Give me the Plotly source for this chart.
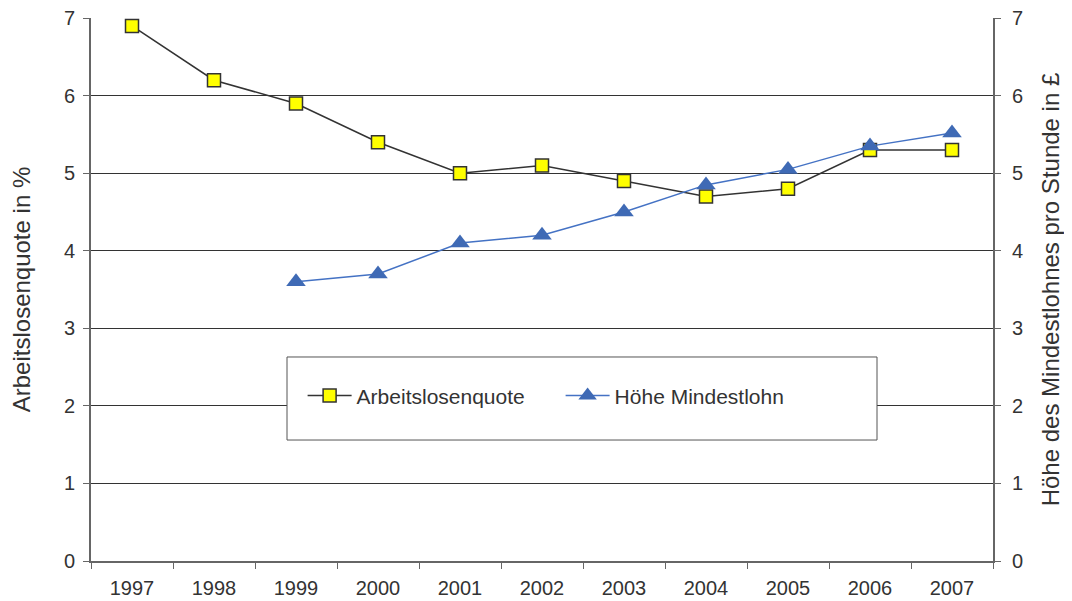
import plotly.graph_objects as go

# Data
jahre = ["1997", "1998", "1999", "2000", "2001", "2002", "2003", "2004", "2005", "2006", "2007"]
arbeitslosenquote = [6.9, 6.2, 5.9, 5.4, 5.0, 5.1, 4.9, 4.7, 4.8, 5.3, 5.3]
mindestlohn = [None, None, 3.60, 3.70, 4.10, 4.20, 4.50, 4.85, 5.05, 5.35, 5.52]

font = "Liberation Sans, Arial, sans-serif"
axis_col = "#666666"

fig = go.Figure()

fig.add_trace(go.Scatter(
    x=jahre, y=arbeitslosenquote, name="Arbeitslosenquote",
    mode="lines+markers",
    line=dict(color="#333333", width=1.5),
    marker=dict(symbol="square", size=13, color="#ffff00",
                line=dict(color="#333333", width=1.5)),
))

fig.add_trace(go.Scatter(
    x=jahre, y=mindestlohn, name="Höhe Mindestlohn",
    mode="lines+markers", yaxis="y2",
    line=dict(color="#4472c4", width=1.5),
    marker=dict(symbol="triangle-up", size=17, color="#3f6ab5"),
))

# Legend frame
fig.add_shape(type="rect", xref="paper", yref="paper",
              x0=0.2173, x1=0.8714, y0=0.2228, y1=0.3757,
              line=dict(color="#555555", width=1), fillcolor="white", layer="above")

# the page body adds an 8px offset, so the figure is smaller and margins shifted
fig.update_layout(
    width=1056, height=593,
    margin=dict(l=83, r=71, t=10, b=40),
    plot_bgcolor="white", paper_bgcolor="white",
    font=dict(family=font, size=20, color="#333333"),
    showlegend=True,
    legend=dict(orientation="h", x=0.2346, y=0.304, xanchor="left", yanchor="middle",
                bgcolor="rgba(0,0,0,0)", font=dict(size=21, color="#333333"),
                itemwidth=44, entrywidth=199, traceorder="normal"),
    xaxis=dict(type="category", range=[-0.5, 10.5], tickson="boundaries",
               showline=True, linecolor=axis_col, linewidth=2,
               ticks="outside", ticklen=6, tickcolor=axis_col, ticklabelstandoff=8,
               showgrid=False, tickfont=dict(size=20), automargin=False),
    yaxis=dict(range=[0, 7.002], tickvals=[0, 1, 2, 3, 4, 5, 6, 7], automargin=False,
               ticklabelstandoff=4, ticklabeloverflow="allow",
               title=dict(text="Arbeitslosenquote in %", font=dict(size=24), standoff=33),
               showline=True, linecolor=axis_col, linewidth=2,
               ticks="outside", ticklen=6, tickcolor=axis_col,
               showgrid=True, gridcolor="#333333", gridwidth=1,
               zeroline=False, tickfont=dict(size=20)),
    yaxis2=dict(range=[0, 7.002], tickvals=[0, 1, 2, 3, 4, 5, 6, 7], overlaying="y", side="right",
                automargin=False, ticklabelstandoff=7, ticklabeloverflow="allow",
                title=dict(text="Höhe des Mindestlohnes pro Stunde in £", font=dict(size=24), standoff=31),
                showline=True, linecolor=axis_col, linewidth=2,
                ticks="outside", ticklen=6, tickcolor=axis_col,
                showgrid=False, zeroline=False, tickfont=dict(size=20)),
)

fig.write_html("out.html")
